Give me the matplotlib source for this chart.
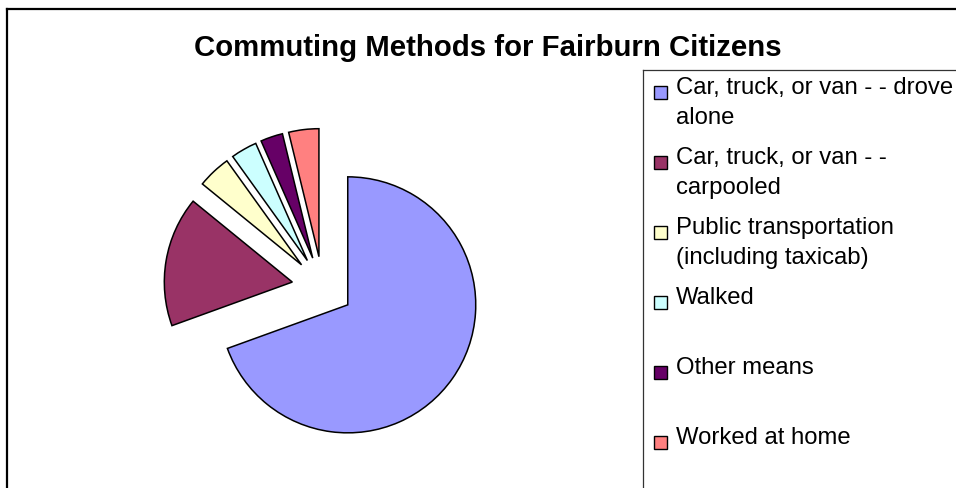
import matplotlib
matplotlib.use("Agg")
import matplotlib.pyplot as plt
from matplotlib.patches import Rectangle
from matplotlib.lines import Line2D

plt.rcParams['font.family'] = ['Liberation Sans', 'DejaVu Sans']

# data (percent of commuters)
methods = ["Car, truck, or van - - drove\nalone",
           "Car, truck, or van - -\ncarpooled",
           "Public transportation\n(including taxicab)",
           "Walked",
           "Other means",
           "Worked at home"]
shares = [69.4, 16.4, 4.2, 3.3, 2.8, 3.8]
colors = ["#9999FF", "#993366", "#FFFFCC", "#CCFFFF", "#660066", "#FF8080"]
title = "Commuting Methods for Fairburn Citizens"

W, H = 956, 488
fig = plt.figure(figsize=(W / 100, H / 100), dpi=100)

def fx(x):
    return x / W

def fy(y):
    return 1 - y / H

# pie: common centre (322.6, 287.2) px, radius 128 px
cx, cy, r = 322.6, 287.2, 128.0
hx, hy = 2.0, 1.6
ax = fig.add_axes([fx(cx - hx * r), fy(cy + hy * r), 2 * hx * r / W, 2 * hy * r / H])
ax.pie(shares, colors=colors, startangle=90, counterclock=False,
       explode=[0.24] * len(shares),
       wedgeprops=dict(edgecolor="black", linewidth=1.1))
ax.set_aspect("auto")
ax.set_xlim(-hx, hx)
ax.set_ylim(-hy, hy)
ax.axis("off")

# chart frame (left and top edges visible)
fig.add_artist(Line2D([fx(7), fx(7)], [fy(9), fy(H + 5)], color="black", lw=1.6))
fig.add_artist(Line2D([fx(7), fx(W + 5)], [fy(9), fy(9)], color="black", lw=1.6))

fig.text(fx(487.5), fy(56), title, ha="center", va="baseline",
         fontsize=21.2, fontweight="bold")

# legend box, drawn by hand so markers line up with the first text line
fig.add_artist(Line2D([fx(643), fx(643)], [fy(70), fy(H + 5)], color="#333333", lw=0.9))
fig.add_artist(Line2D([fx(643), fx(W + 5)], [fy(70), fy(70)], color="#333333", lw=0.9))

for i, (lab, col) in enumerate(zip(methods, colors)):
    my = 92.5 + 70 * i
    fig.add_artist(Rectangle((fx(653.5), fy(my + 6.5)), 13 / W, 13 / H,
                             facecolor=col, edgecolor="black", lw=1.0))
    for j, line in enumerate(lab.split("\n")):
        fig.text(fx(676), fy(my + 1.5 + 30 * j), line, ha="left", va="baseline",
                 fontsize=17.2)

fig.savefig("out.png", dpi=100)
